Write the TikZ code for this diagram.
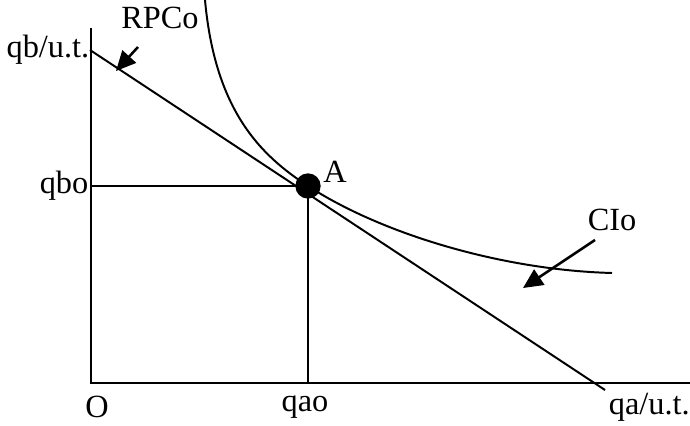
\documentclass[tikz,border=0pt]{standalone}
\usepackage{fontspec}
\setmainfont{Liberation Serif}
\usetikzlibrary{arrows.meta, positioning}

\begin{document}
\begin{tikzpicture}[
  x=0.025cm, y=-0.025cm,
  every node/.style={font=\fontsize{23}{27}\selectfont, inner sep=1pt},
  axis/.style={line width=1.5pt},
  curve/.style={line width=1.4pt},
  guide/.style={line width=1.3pt},
  pointer/.style={-{Triangle[length=14pt, width=13pt]}, line width=1.8pt},
]
\useasboundingbox (0,0) rectangle (690,426);
\coordinate (O) at (91,383);
\coordinate (ytop) at (91,28);
\coordinate (xend) at (690,383);
\draw[axis] (ytop) -- (O) -- (xend);

% budget line and indifference curve
\coordinate (rp1) at (90,50);
\coordinate (rp2) at (605,390);
\node[circle, fill, minimum size=18pt, inner sep=0pt] (A) at (308,186) {};
\draw[curve] (rp1) -- (rp2);
\draw[curve] (205,0) .. controls (215,110) and (260,155) .. (A.center)
  .. controls (380,233) and (500,270) .. (612,273);
\draw[guide] (O |- A) -- (A.center) -- (A |- O);

% labels
\node (lblA) at (335,172) {A};
\node[anchor=east] (qbut) at (91,50) {qb/u.t.};
\node[anchor=east] (qbo) at (90,186) {qbo};
\node (orig) at (97,407) {O};
\node (qao) at (305,407) {qao};
\node[anchor=east, inner sep=0pt] (qaut) at (690,407) {qa/u.t.};
\node (rpco) at (160,18) {RPCo};
\node (cio) at (612,220) {CIo};

% pointers
\coordinate (rpTail) at (138,47);
\coordinate (rpHead) at (116,71);
\coordinate (ciTail) at (595,240);
\coordinate (ciHead) at (523,288);
\draw[pointer] (rpTail) -- (rpHead);
\draw[pointer] (ciTail) -- (ciHead);
\end{tikzpicture}
\end{document}
